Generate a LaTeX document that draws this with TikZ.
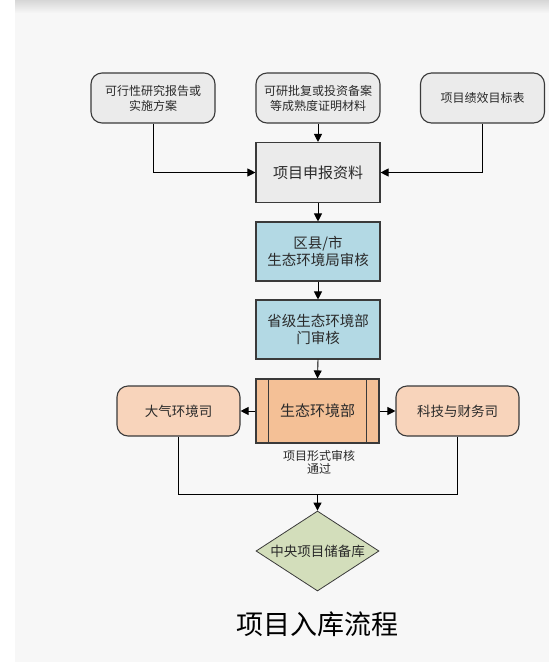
\documentclass[tikz,border=0pt]{standalone}
\usepackage{fontspec}
\setmainfont{Noto Sans CJK SC}
\usetikzlibrary{arrows.meta,shapes.geometric}
\definecolor{panel}{HTML}{F7F7F7}
\definecolor{greyfill}{HTML}{EBEBEB}
\definecolor{bluefill}{HTML}{B3D9E4}
\definecolor{orangefill}{HTML}{F4C096}
\definecolor{peachfill}{HTML}{F8D4BB}
\definecolor{greenfill}{HTML}{D3DEBB}
\definecolor{edgecol}{HTML}{3A3A3A}
\definecolor{txtcol}{HTML}{2A2A2A}
\newcommand{\fs}[2]{\fontsize{#1pt}{#2pt}\selectfont}
\begin{document}
\begin{tikzpicture}[x=1pt,y=-1pt,
  boxbase/.style={draw=edgecol,line width=1.1pt,text=txtcol,align=center,inner sep=0pt},
  topbox/.style={boxbase,fill=greyfill,rounded corners=11pt,minimum width=124pt,minimum height=50pt,font=\fs{12}{15}},
  mainbox/.style={boxbase,fill=greyfill,minimum width=124pt,minimum height=60pt,font=\fs{15}{18}},
  bluebox/.style={boxbase,fill=bluefill,minimum width=124pt,minimum height=59pt,font=\fs{14.5}{17}},
  orangebox/.style={boxbase,fill=orangefill,minimum width=123pt,minimum height=64pt,font=\fs{15}{18}},
  sidebox/.style={boxbase,fill=peachfill,rounded corners=11pt,minimum width=123pt,minimum height=50pt,font=\fs{13.5}{16}},
  arr/.style={draw=black,line width=0.9pt,-{Triangle[length=8pt,width=8pt]}},
  ln/.style={draw=black,line width=0.9pt}]
\useasboundingbox (0,0) rectangle (549,662);
\fill[white] (0,0) rectangle (549,662);
\fill[panel] (15,0) rectangle (549,662);
\shade[top color=black!16,bottom color=panel] (15,0) rectangle (549,13);

\node[topbox] (b1) at (153,98) {可行性研究报告或\\实施方案};
\node[topbox] (b2) at (318,98) {可研批复或投资备案\\等成熟度证明材料};
\node[topbox] (b3) at (482.5,98) {项目绩效目标表};
\node[mainbox] (sb) at (318,172.5) {项目申报资料};
\node[bluebox] (qx) at (318,251.5) {区县/市\\生态环境局审核};
\node[bluebox] (sj) at (318,329.5) {省级生态环境部\\门审核};
\node[orangebox] (st) at (317.5,411) {生态环境部};
\draw[edgecol,line width=1.1pt] ([xshift=13pt]st.north west) -- ([xshift=13pt]st.south west);
\draw[edgecol,line width=1.1pt] ([xshift=-13pt]st.north east) -- ([xshift=-13pt]st.south east);
\node[sidebox] (dq) at (178.5,411) {大气环境司};
\node[sidebox] (kj) at (457.5,411) {科技与财务司};
\node[text=txtcol,align=center,font=\fs{12}{13.5}] (lbl) at (319,462.5) {项目形式审核\\通过};
\node[draw=edgecol,line width=0.8pt,fill=greenfill,shape=diamond,aspect=1.54,inner sep=0pt,
  minimum width=123pt,minimum height=80pt,text=txtcol,font=\fs{13.5}{16}] (zy) at (317.5,551) {中央项目储备库};
\node[text=black,font=\fs{27}{30}] (title) at (317,624) {项目入库流程};

\coordinate (j) at (317.5,494);
\draw[arr] (b1.south) |- (sb.west);
\draw[arr] (b3.south) |- (sb.east);
\draw[arr] (b2.south) -- (sb.north);
\draw[arr] (sb.south) -- (qx.north);
\draw[arr] (qx.south) -- (sj.north);
\draw[arr] (sj.south) -- (st.north);
\draw[arr] (st.west) -- (dq.east);
\draw[arr] (st.east) -- (kj.west);
\draw[ln] (dq.south) |- (j);
\draw[ln] (kj.south) |- (j);
\draw[arr] (j) -- (zy.north);
\end{tikzpicture}
\end{document}
